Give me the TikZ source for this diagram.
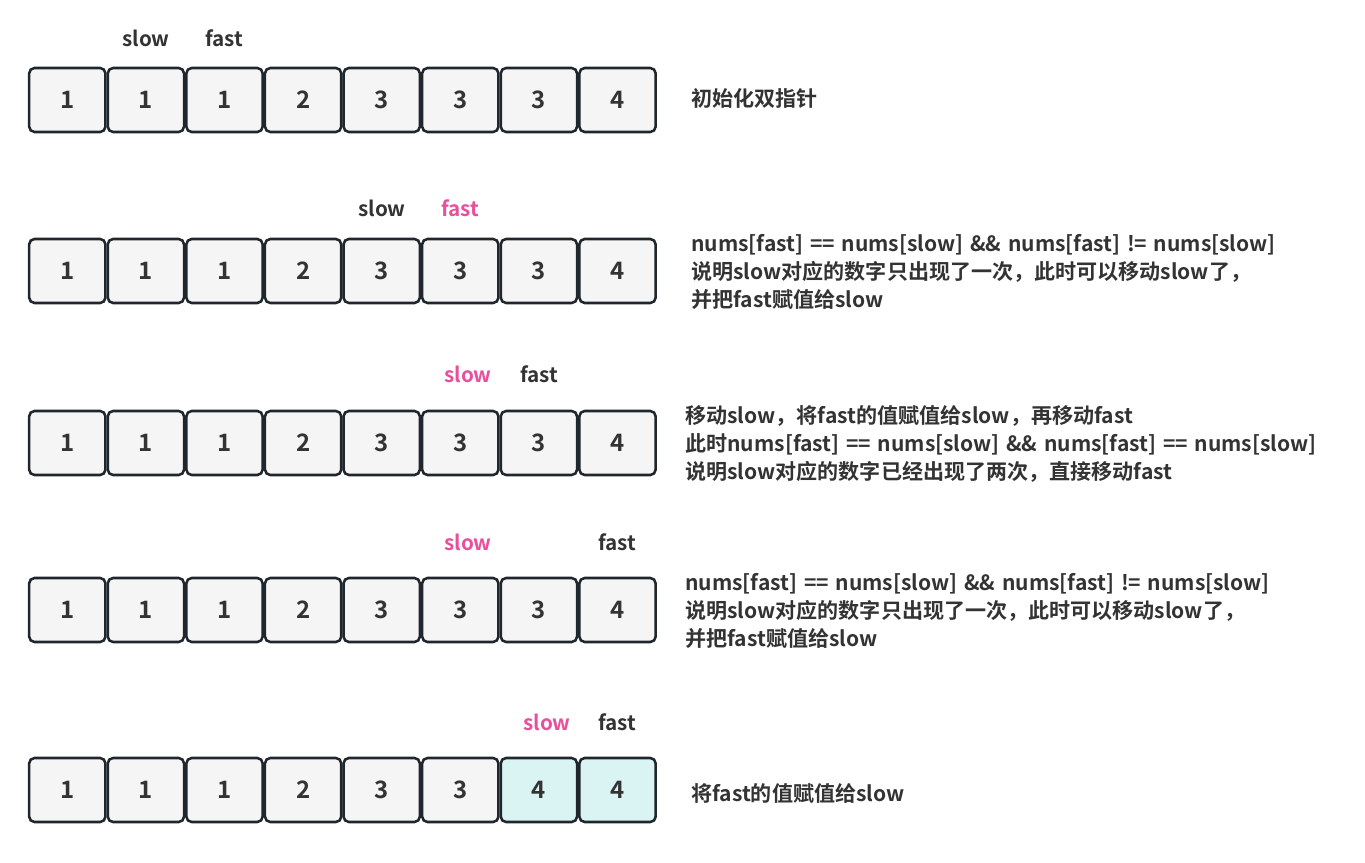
\documentclass[tikz,border=0pt]{standalone}
\usepackage{fontspec}
\setmainfont{Noto Sans CJK SC}[BoldFont={Noto Sans CJK SC Bold},WordSpace={1.4}]
\definecolor{ink}{HTML}{333333}
\definecolor{edge}{HTML}{1F262C}
\definecolor{cellfill}{HTML}{F5F5F5}
\definecolor{hot}{HTML}{E8509C}
\definecolor{teal}{HTML}{DAF4F4}
\begin{document}
\begin{tikzpicture}[x=0.75pt,y=-0.75pt,
  cell/.style={draw=edge,line width=1.9pt,fill=cellfill,rounded corners=4pt,
    minimum width=57.2pt,minimum height=48pt,inner sep=0pt,
    font=\fontsize{18}{20}\selectfont\bfseries,text=ink},
  hotcell/.style={cell,fill=teal},
  ptr/.style={font=\fontsize{15.5}{18}\selectfont\bfseries,text=ink,inner sep=0pt},
  hotptr/.style={ptr,text=hot},
  note/.style={font=\fontsize{15.8}{21}\selectfont\bfseries,text=ink,align=left,anchor=west,inner sep=0pt}]
\useasboundingbox (0,0) rectangle (1365,863);
% row 1
\foreach \v [count=\i] in {1,1,1,2,3,3,3,4}
  \node[cell] (a\i) at ({67.3+78.6*(\i-1)},100) {\v};
\node[ptr] (a-slow) at (146,38) {slow};
\node[ptr] (a-fast) at (224,38) {fast};
\node[note] (a-note) at (691,98) {初始化双指针};
% row 2
\foreach \v [count=\i] in {1,1,1,2,3,3,3,4}
  \node[cell] (b\i) at ({67.3+78.6*(\i-1)},271) {\v};
\node[ptr] (b-slow) at (382,208) {slow};
\node[hotptr] (b-fast) at (460,208) {fast};
\node[note] (b-note) at (691,272) {nums[fast] == nums[slow] \&\& nums[fast] != nums[slow]\\说明slow对应的数字只出现了一次，此时可以移动slow了，\\并把fast赋值给slow};
% row 3
\foreach \v [count=\i] in {1,1,1,2,3,3,3,4}
  \node[cell] (c\i) at ({67.3+78.6*(\i-1)},443) {\v};
\node[hotptr] (c-slow) at (468,374) {slow};
\node[ptr] (c-fast) at (539,374) {fast};
\node[note] (c-note) at (685,444) {移动slow，将fast的值赋值给slow，再移动fast\\此时nums[fast] == nums[slow] \&\& nums[fast] == nums[slow]\\说明slow对应的数字已经出现了两次，直接移动fast};
% row 4
\foreach \v [count=\i] in {1,1,1,2,3,3,3,4}
  \node[cell] (d\i) at ({67.3+78.6*(\i-1)},610) {\v};
\node[hotptr] (d-slow) at (468,542) {slow};
\node[ptr] (d-fast) at (617,542) {fast};
\node[note] (d-note) at (685,611) {nums[fast] == nums[slow] \&\& nums[fast] != nums[slow]\\说明slow对应的数字只出现了一次，此时可以移动slow了，\\并把fast赋值给slow};
% row 5
\foreach \v [count=\i] in {1,1,1,2,3,3}
  \node[cell] (e\i) at ({67.3+78.6*(\i-1)},790) {\v};
\node[hotcell] (e7) at ({67.3+78.6*6},790) {4};
\node[hotcell] (e8) at ({67.3+78.6*7},790) {4};
\node[hotptr] (e-slow) at (547,722) {slow};
\node[ptr] (e-fast) at (617,722) {fast};
\node[note] (e-note) at (691,793) {将fast的值赋值给slow};
\end{tikzpicture}
\end{document}
